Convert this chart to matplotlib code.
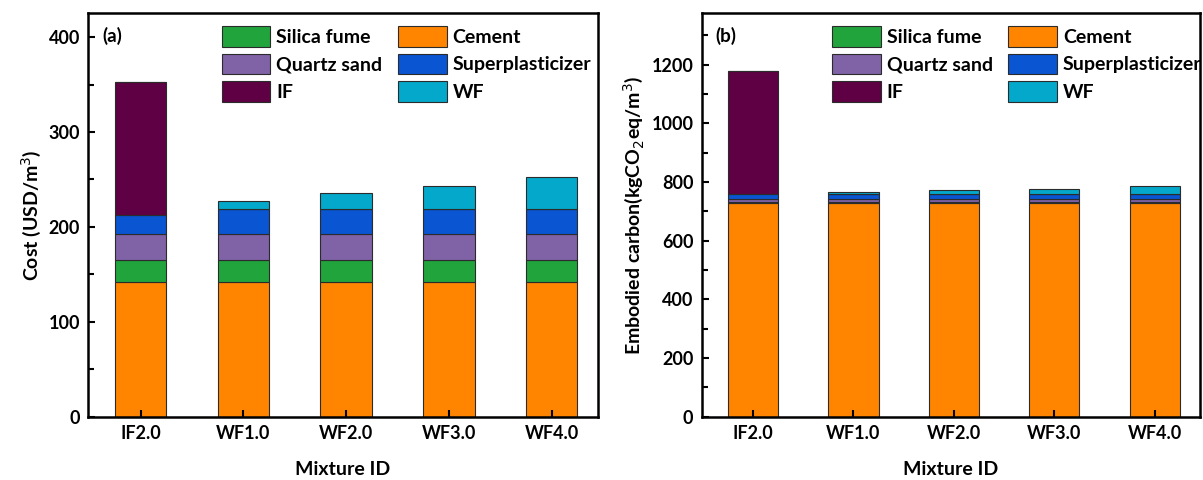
import matplotlib.pyplot as plt
import numpy as np
from matplotlib.ticker import MultipleLocator

plt.rcParams["font.family"] = ["Lato", "DejaVu Sans"]

mixtures = ["IF2.0", "WF1.0", "WF2.0", "WF3.0", "WF4.0"]

# cost per m3 (USD)
cost_cement = [141.5, 141.5, 141.5, 141.5, 141.5]
cost_silica = [24, 24, 24, 24, 24]
cost_quartz = [27.5, 27.5, 27.5, 27.5, 27.5]
cost_sp = [19.5, 25.5, 25.5, 25.5, 25.5]
cost_if = [140, 0, 0, 0, 0]
cost_wf = [0, 8.5, 17, 25, 34]

# embodied carbon per m3 (kgCO2eq)
co2_cement = [730, 730, 730, 730, 730]
co2_silica = [3, 3, 3, 3, 3]
co2_quartz = [10, 10, 10, 10, 10]
co2_sp = [15, 15, 15, 15, 15]
co2_if = [420, 0, 0, 0, 0]
co2_wf = [0, 7, 13.5, 20, 27]

colors = {
    "Cement": "#ff8500",
    "Silica fume": "#22a43c",
    "Quartz sand": "#8062a6",
    "Superplasticizer": "#0a55d2",
    "IF": "#5e0043",
    "WF": "#04a8ca",
}


def stacked(ax, layers, ylabel, ymax, major, minor, tag):
    x = np.arange(len(mixtures))
    bottom = np.zeros(len(mixtures))
    handles = {}
    for name, vals in layers:
        vals = np.array(vals, dtype=float)
        h = ax.bar(x, vals, 0.5, bottom=bottom, color=colors[name],
                   edgecolor="#2b2b2b", linewidth=0.8, label=name)
        handles[name] = h
        bottom += vals

    ax.set_xlim(-0.51, 4.45)
    ax.set_ylim(0, ymax)
    ax.set_xticks(x)
    ax.set_xticklabels(mixtures, fontsize=13, fontweight="bold")
    ax.yaxis.set_major_locator(MultipleLocator(major))
    ax.yaxis.set_minor_locator(MultipleLocator(minor))
    for lbl in ax.get_yticklabels():
        lbl.set_fontsize(13)
        lbl.set_fontweight("bold")
    ax.tick_params(axis="both", direction="in", width=1.5, length=5, pad=6)
    ax.tick_params(axis="y", which="minor", direction="in", width=1.5, length=4)
    ax.tick_params(right=False, top=False)
    for s in ax.spines.values():
        s.set_linewidth(1.8)

    ax.set_xlabel("Mixture ID", fontsize=14, fontweight="bold", labelpad=14)
    ax.set_ylabel(ylabel, fontsize=14, fontweight="bold")
    ax.text(0.028, 0.945, tag, transform=ax.transAxes, fontsize=13.5,
            fontweight="bold", va="center")

    order = ["Silica fume", "Quartz sand", "IF", "Cement", "Superplasticizer", "WF"]
    ax.legend([handles[k] for k in order], order, ncol=2, frameon=False,
              loc="upper left", bbox_to_anchor=(0.262, 0.969),
              prop={"size": 14, "weight": "bold"},
              handlelength=2.5, handleheight=1.25, handletextpad=0.3,
              labelspacing=0.36, columnspacing=0.8, borderpad=0, borderaxespad=0)


fig = plt.figure(figsize=(12.03, 4.8), dpi=100)
ax1 = fig.add_axes([0.0734, 0.132, 0.4236, 0.840])
ax2 = fig.add_axes([0.5833, 0.132, 0.4142, 0.840])

stacked(ax1, [("Cement", cost_cement), ("Silica fume", cost_silica),
              ("Quartz sand", cost_quartz), ("Superplasticizer", cost_sp),
              ("IF", cost_if), ("WF", cost_wf)],
        "Cost (USD/m$^3$)", 425, 100, 50, "(a)")
stacked(ax2, [("Cement", co2_cement), ("Silica fume", co2_silica),
              ("Quartz sand", co2_quartz), ("Superplasticizer", co2_sp),
              ("IF", co2_if), ("WF", co2_wf)],
        "Embodied carbon(kgCO$_2$eq/m$^3$)", 1375, 200, 100, "(b)")

fig.savefig("out.png", dpi=100)
